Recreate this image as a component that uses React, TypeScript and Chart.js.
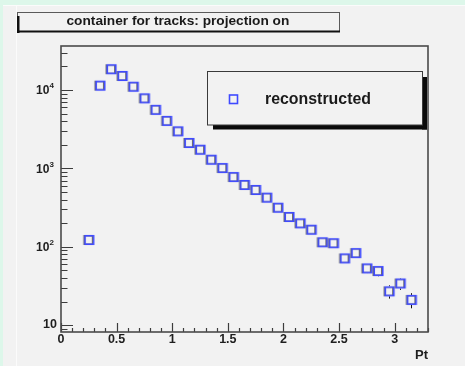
import React, { useEffect, useRef } from "react";
import { Chart, registerables } from "chart.js";

Chart.register(...registerables);

// Pt histogram: bin centres and entries of the "reconstructed" sample
const ptBinCenters = [
  0.25, 0.35, 0.45, 0.55, 0.65, 0.75, 0.85, 0.95, 1.05, 1.15,
  1.25, 1.35, 1.45, 1.55, 1.65, 1.75, 1.85, 1.95, 2.05, 2.15,
  2.25, 2.35, 2.45, 2.55, 2.65, 2.75, 2.85, 2.95, 3.05, 3.15,
];
const reconstructedCounts = [
  122, 11350, 18400, 15100, 11000, 7830, 5580, 4030, 2970, 2110,
  1730, 1290, 1010, 776, 614, 530, 423, 315, 240, 199,
  165, 114, 111, 71, 83, 53, 49, 27, 34, 21,
];

const xTickValues = [0, 0.5, 1, 1.5, 2, 2.5, 3];
const xTickLabels = ["0", "0.5", "1", "1.5", "2", "2.5", "3"];
const yDecadeExponents = [1, 2, 3, 4];

const titleText = "container for tracks: projection on";
const legendLabel = "reconstructed";
const xAxisTitle = "Pt";

const X_MIN = 0;
const X_MAX = 3.3;
const Y_MIN = 8.18;
const Y_MAX = 36400;

const FONT = "'Liberation Sans', Arial, Helvetica, sans-serif";
const MARKER_BLUE = "#3f4aff";
const PANEL_GRAY = "#f2f2f2";
const MINT = "#ddf7ea";

// open-square marker with a thin dark edge on its left, as ROOT renders it
function makeMarker(): HTMLCanvasElement {
  const c = document.createElement("canvas");
  c.width = 14;
  c.height = 14;
  const g = c.getContext("2d")!;
  g.lineWidth = 1.4;
  g.strokeStyle = "rgba(10,10,10,0.6)";
  g.strokeRect(2.25, 2.75, 8.5, 8.5);
  g.strokeStyle = MARKER_BLUE;
  g.lineWidth = 1.6;
  g.strokeRect(3.25, 2.75, 8.5, 8.5);
  return c;
}

const rootStyle = {
  id: "rootStyle",
  beforeDraw(chart: any) {
    const { ctx, width, height } = chart;
    ctx.save();
    ctx.fillStyle = MINT;
    ctx.fillRect(0, 0, width, height);
    ctx.fillStyle = PANEL_GRAY;
    ctx.fillRect(3, 5, width - 3, height - 5);
    ctx.strokeStyle = "#fbfbfb";
    ctx.lineWidth = 1;
    ctx.beginPath();
    ctx.moveTo(3, 5.5);
    ctx.lineTo(width, 5.5);
    ctx.moveTo(16.5, 6);
    ctx.lineTo(16.5, height);
    ctx.stroke();
    ctx.restore();
  },
  beforeDatasetsDraw(chart: any) {
    const { ctx, chartArea: a, scales } = chart;
    const xs = scales.x;
    const ys = scales.y;
    ctx.save();

    // y axis ticks (log), pointing into the frame
    ctx.strokeStyle = "#3c3c3c";
    ctx.lineWidth = 1.2;
    ctx.beginPath();
    for (let d = 0; d <= 4; d++) {
      for (let m = 1; m <= 9; m++) {
        const v = m * Math.pow(10, d);
        if (v < Y_MIN || v > Y_MAX) continue;
        const y = Math.round(ys.getPixelForValue(v)) + 0.5;
        const len = m === 1 ? 12 : 6.5;
        ctx.moveTo(a.left, y);
        ctx.lineTo(a.left + len, y);
      }
    }
    // x axis ticks, every 0.1 with majors every 0.5
    for (let i = 0; i <= 33; i++) {
      const v = i / 10;
      if (v > X_MAX + 1e-9) continue;
      const x = Math.round(xs.getPixelForValue(v)) + 0.5;
      const len = i % 5 === 0 ? 9 : 4;
      ctx.moveTo(x, a.bottom);
      ctx.lineTo(x, a.bottom - len);
    }
    ctx.stroke();

    // frame
    ctx.strokeStyle = "#4a4a4a";
    ctx.lineWidth = 1.6;
    ctx.strokeRect(a.left, a.top, a.right - a.left, a.bottom - a.top);

    // y labels
    ctx.fillStyle = "#1e1e1e";
    ctx.textBaseline = "middle";
    yDecadeExponents.forEach((e) => {
      const y = ys.getPixelForValue(Math.pow(10, e));
      if (e === 1) {
        ctx.font = `bold 12.5px ${FONT}`;
        ctx.textAlign = "right";
        ctx.fillText("10", a.left - 4, y - 1);
      } else {
        ctx.font = `bold 12px ${FONT}`;
        ctx.textAlign = "left";
        ctx.fillText("10", 36, y + 1);
        ctx.font = `bold 8px ${FONT}`;
        ctx.fillText(String(e), 49.5, y - 4);
      }
    });

    // x labels
    ctx.font = `bold 12.5px ${FONT}`;
    ctx.textAlign = "center";
    xTickValues.forEach((v, i) => {
      ctx.fillText(xTickLabels[i], xs.getPixelForValue(v), a.bottom + 8);
    });
    ctx.textAlign = "right";
    ctx.font = `bold 13px ${FONT}`;
    ctx.fillText(xAxisTitle, a.right, a.bottom + 23);

    // statistical error bars, drawn outside the marker only
    ctx.strokeStyle = "#111";
    ctx.lineWidth = 1;
    ctx.beginPath();
    ptBinCenters.forEach((pt, i) => {
      const n = reconstructedCounts[i];
      const err = Math.sqrt(n);
      const x = Math.round(xs.getPixelForValue(pt)) + 0.5;
      const yc = ys.getPixelForValue(n);
      const yHi = ys.getPixelForValue(n + err);
      const yLo = ys.getPixelForValue(Math.max(n - err, Y_MIN));
      if (yc - yHi > 5) {
        ctx.moveTo(x, yc - 5);
        ctx.lineTo(x, yHi);
      }
      if (yLo - yc > 5) {
        ctx.moveTo(x, yc + 5);
        ctx.lineTo(x, yLo);
      }
    });
    ctx.stroke();
    ctx.restore();
  },
  afterDraw(chart: any) {
    const { ctx } = chart;
    ctx.save();

    // title box
    ctx.fillStyle = PANEL_GRAY;
    ctx.fillRect(17, 13, 323, 19);
    ctx.strokeStyle = "#5a5a5a";
    ctx.lineWidth = 1;
    ctx.strokeRect(17.5, 12.5, 322, 19);
    ctx.fillStyle = "#111";
    ctx.fillRect(17, 16, 2.5, 17);
    ctx.fillRect(17, 30.5, 323, 2);
    ctx.fillStyle = "#1a1a1a";
    ctx.font = `bold 13.7px ${FONT}`;
    ctx.textAlign = "left";
    ctx.textBaseline = "middle";
    ctx.fillText(titleText, 66.5, 21.5);

    // legend box with shadow
    ctx.fillStyle = "#0a0a0a";
    ctx.fillRect(213, 125, 214, 4.5);
    ctx.fillRect(422, 77, 5, 52.5);
    ctx.fillStyle = PANEL_GRAY;
    ctx.fillRect(207, 72, 215, 53);
    ctx.strokeStyle = "#3a3a3a";
    ctx.lineWidth = 1;
    ctx.strokeRect(207.5, 71.5, 215, 53.5);
    ctx.strokeStyle = MARKER_BLUE;
    ctx.lineWidth = 1.6;
    ctx.strokeRect(229.5, 95, 8, 8.5);
    ctx.fillStyle = "#1a1a1a";
    ctx.font = `bold 15.9px ${FONT}`;
    ctx.textAlign = "left";
    ctx.textBaseline = "middle";
    ctx.fillText(legendLabel, 265, 99.5);

    ctx.restore();
  },
};

export default function App() {
  const canvasRef = useRef<HTMLCanvasElement | null>(null);

  useEffect(() => {
    const canvas = canvasRef.current;
    if (!canvas) return;
    const marker = makeMarker();
    const chart = new Chart(canvas, {
      type: "scatter",
      data: {
        datasets: [
          {
            label: legendLabel,
            data: ptBinCenters.map((x, i) => ({ x, y: reconstructedCounts[i] })),
            pointStyle: marker as any,
            pointRadius: 6,
            pointHoverRadius: 6,
            clip: false as any,
          },
        ],
      },
      options: {
        animation: false,
        responsive: false,
        devicePixelRatio: 1,
        events: [],
        layout: { padding: { left: 61, top: 46, right: 37, bottom: 34 } },
        scales: {
          x: { type: "linear", min: X_MIN, max: X_MAX, display: false },
          y: { type: "logarithmic", min: Y_MIN, max: Y_MAX, display: false },
        },
        plugins: {
          legend: { display: false },
          tooltip: { enabled: false },
          title: { display: false },
        },
      },
      plugins: [rootStyle],
    });
    return () => chart.destroy();
  }, []);

  return (
    <div style={{ position: "fixed", left: 0, top: 0, width: 465, height: 366 }}>
      <canvas ref={canvasRef} width={465} height={366} style={{ display: "block" }} />
    </div>
  );
}
